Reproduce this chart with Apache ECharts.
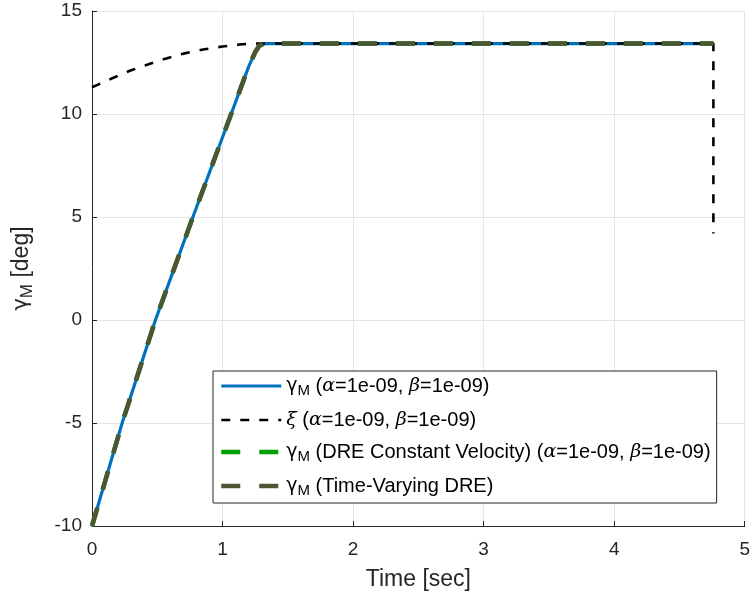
<!DOCTYPE html>
<html>
<head>
<meta charset="utf-8">
<script src="https://cdn.jsdelivr.net/npm/echarts@6/dist/echarts.min.js"></script>
<style>html,body{margin:0;padding:0;background:#fff;}#c{width:753px;height:603px;}</style>
</head>
<body>
<div id="c"></div>
<script>
// ---- data ----
const xTicks = [0, 1, 2, 3, 4, 5];
const yTicks = [-10, -5, 0, 5, 10, 15];

const gammaT = [0, 0.231, 0.486, 0.773, 1.066, 1.2, 1.25, 1.28, 1.31, 1.35, 4.76];
const gammaV = [-10, -5, 0, 5, 10, 12.3, 13.0, 13.3, 13.4, 13.42, 13.42];

const xiT = [0, 0.15, 0.29, 0.45, 0.57, 0.7, 0.85, 1.0, 1.13, 1.2, 1.3, 4.76, 4.76];
const xiV = [11.3, 11.72, 12.1, 12.45, 12.7, 12.93, 13.13, 13.28, 13.37, 13.41, 13.42, 13.42, 4.2];

const dreCvT = [0, 0.231, 0.486, 0.773, 1.066, 1.2, 1.25, 1.28, 1.31, 1.35, 4.76];
const dreCvV = [-10, -5, 0, 5, 10, 12.3, 13.0, 13.3, 13.4, 13.42, 13.42];

const tvDreT = [0, 0.231, 0.486, 0.773, 1.066, 1.2, 1.25, 1.28, 1.31, 1.35, 4.76];
const tvDreV = [-10, -5, 0, 5, 10, 12.3, 13.0, 13.3, 13.4, 13.42, 13.42];

const seriesNames = ['gamma', 'xi', 'dreCv', 'tvDre'];

function pairs(t, v) { return t.map((x, i) => [x, v[i]]); }

const FONT = 'Liberation Sans';
const axisColor = '#262626';

const legendRich = {
  g: { fontFamily: 'DejaVu Sans', fontSize: 19, color: '#000', lineHeight: 24 },
  sub: { fontFamily: FONT, fontSize: 15, color: '#000', lineHeight: 12, verticalAlign: 'bottom' },
  t: { fontFamily: FONT, fontSize: 20, color: '#000', lineHeight: 24 },
  m: { fontFamily: 'DejaVu Serif', fontStyle: 'italic', fontSize: 19, color: '#000', lineHeight: 24 }
};
const legendLabels = {
  gamma: '{g|γ}{sub|M}{t| (}{m|α}{t|=1e-09, }{m|β}{t|=1e-09)}',
  xi: '{m|ξ}{t| (}{m|α}{t|=1e-09, }{m|β}{t|=1e-09)}',
  dreCv: '{g|γ}{sub|M}{t| (DRE Constant Velocity) (}{m|α}{t|=1e-09, }{m|β}{t|=1e-09)}',
  tvDre: '{g|γ}{sub|M}{t| (Time-Varying DRE)}'
};

const chart = echarts.init(document.getElementById('c'), null, { renderer: 'canvas' });
chart.setOption({
  animation: false,
  backgroundColor: '#fff',
  grid: { left: 92, right: 6, top: 11, bottom: 77, containLabel: false },
  xAxis: {
    type: 'value', min: 0, max: 5, interval: 1,
    name: 'Time [sec]', nameLocation: 'middle', nameGap: 42,
    nameTextStyle: { fontFamily: FONT, fontSize: 23, color: axisColor },
    axisLine: { show: true, onZero: false, lineStyle: { color: axisColor, width: 1 } },
    axisTick: { show: true, inside: true, length: 5, lineStyle: { color: axisColor } },
    axisLabel: { fontFamily: FONT, fontSize: 19, color: axisColor, margin: 14,
      formatter: v => xTicks.includes(v) ? String(v) : '' },
    splitLine: { show: true, lineStyle: { color: '#e5e5e5', width: 1 } }
  },
  yAxis: {
    type: 'value', min: -10, max: 15, interval: 5,
    name: '{g|γ}{sub|M}{t| [deg]}', nameLocation: 'middle', nameGap: 56,
    nameTextStyle: { rich: {
      g: { fontFamily: 'DejaVu Sans', fontSize: 21, color: axisColor, lineHeight: 28 },
      sub: { fontFamily: FONT, fontSize: 17, color: axisColor, lineHeight: 14, verticalAlign: 'bottom' },
      t: { fontFamily: FONT, fontSize: 23, color: axisColor, lineHeight: 28 }
    } },
    axisLine: { show: true, onZero: false, lineStyle: { color: axisColor, width: 1 } },
    axisTick: { show: true, inside: true, length: 5, lineStyle: { color: axisColor } },
    axisLabel: { fontFamily: FONT, fontSize: 19, color: axisColor, margin: 10,
      formatter: v => yTicks.includes(v) ? String(v) : '' },
    splitLine: { show: true, lineStyle: { color: '#e5e5e5', width: 1 } }
  },
  legend: {
    orient: 'vertical', left: 213, top: 371,
    backgroundColor: '#fff', borderColor: '#262626', borderWidth: 1,
    padding: [5, 6, 5, 6], itemGap: 12,
    itemWidth: 60, itemHeight: 24,
    itemStyle: { opacity: 0 },
    data: [
      { name: seriesNames[0], lineStyle: { width: 3.2 } },
      { name: seriesNames[1], lineStyle: { width: 2.6 } },
      { name: seriesNames[2], lineStyle: { width: 4.5 } },
      { name: seriesNames[3], lineStyle: { width: 4.5 } }
    ],
    formatter: n => legendLabels[n],
    textStyle: { rich: legendRich }
  },
  series: [
    { name: 'gamma', type: 'line', data: pairs(gammaT, gammaV), showSymbol: false, symbol: 'none',
      lineStyle: { color: '#0072bd', width: 3.2 }, itemStyle: { color: '#0072bd' } },
    { name: 'xi', type: 'line', data: pairs(xiT, xiV), showSymbol: false, symbol: 'none',
      lineStyle: { color: '#000', width: 2.6, type: [9, 10] }, itemStyle: { color: '#000' } },
    { name: 'dreCv', type: 'line', data: pairs(dreCvT, dreCvV), showSymbol: false, symbol: 'none',
      lineStyle: { color: '#00a000', width: 4.5, type: [19, 19] }, itemStyle: { color: '#00a000' } },
    { name: 'tvDre', type: 'line', data: pairs(tvDreT, tvDreV), showSymbol: false, symbol: 'none',
      lineStyle: { color: '#4d5535', width: 4.5, type: [19, 19] }, itemStyle: { color: '#4d5535' } }
  ]
});
</script>
</body>
</html>
